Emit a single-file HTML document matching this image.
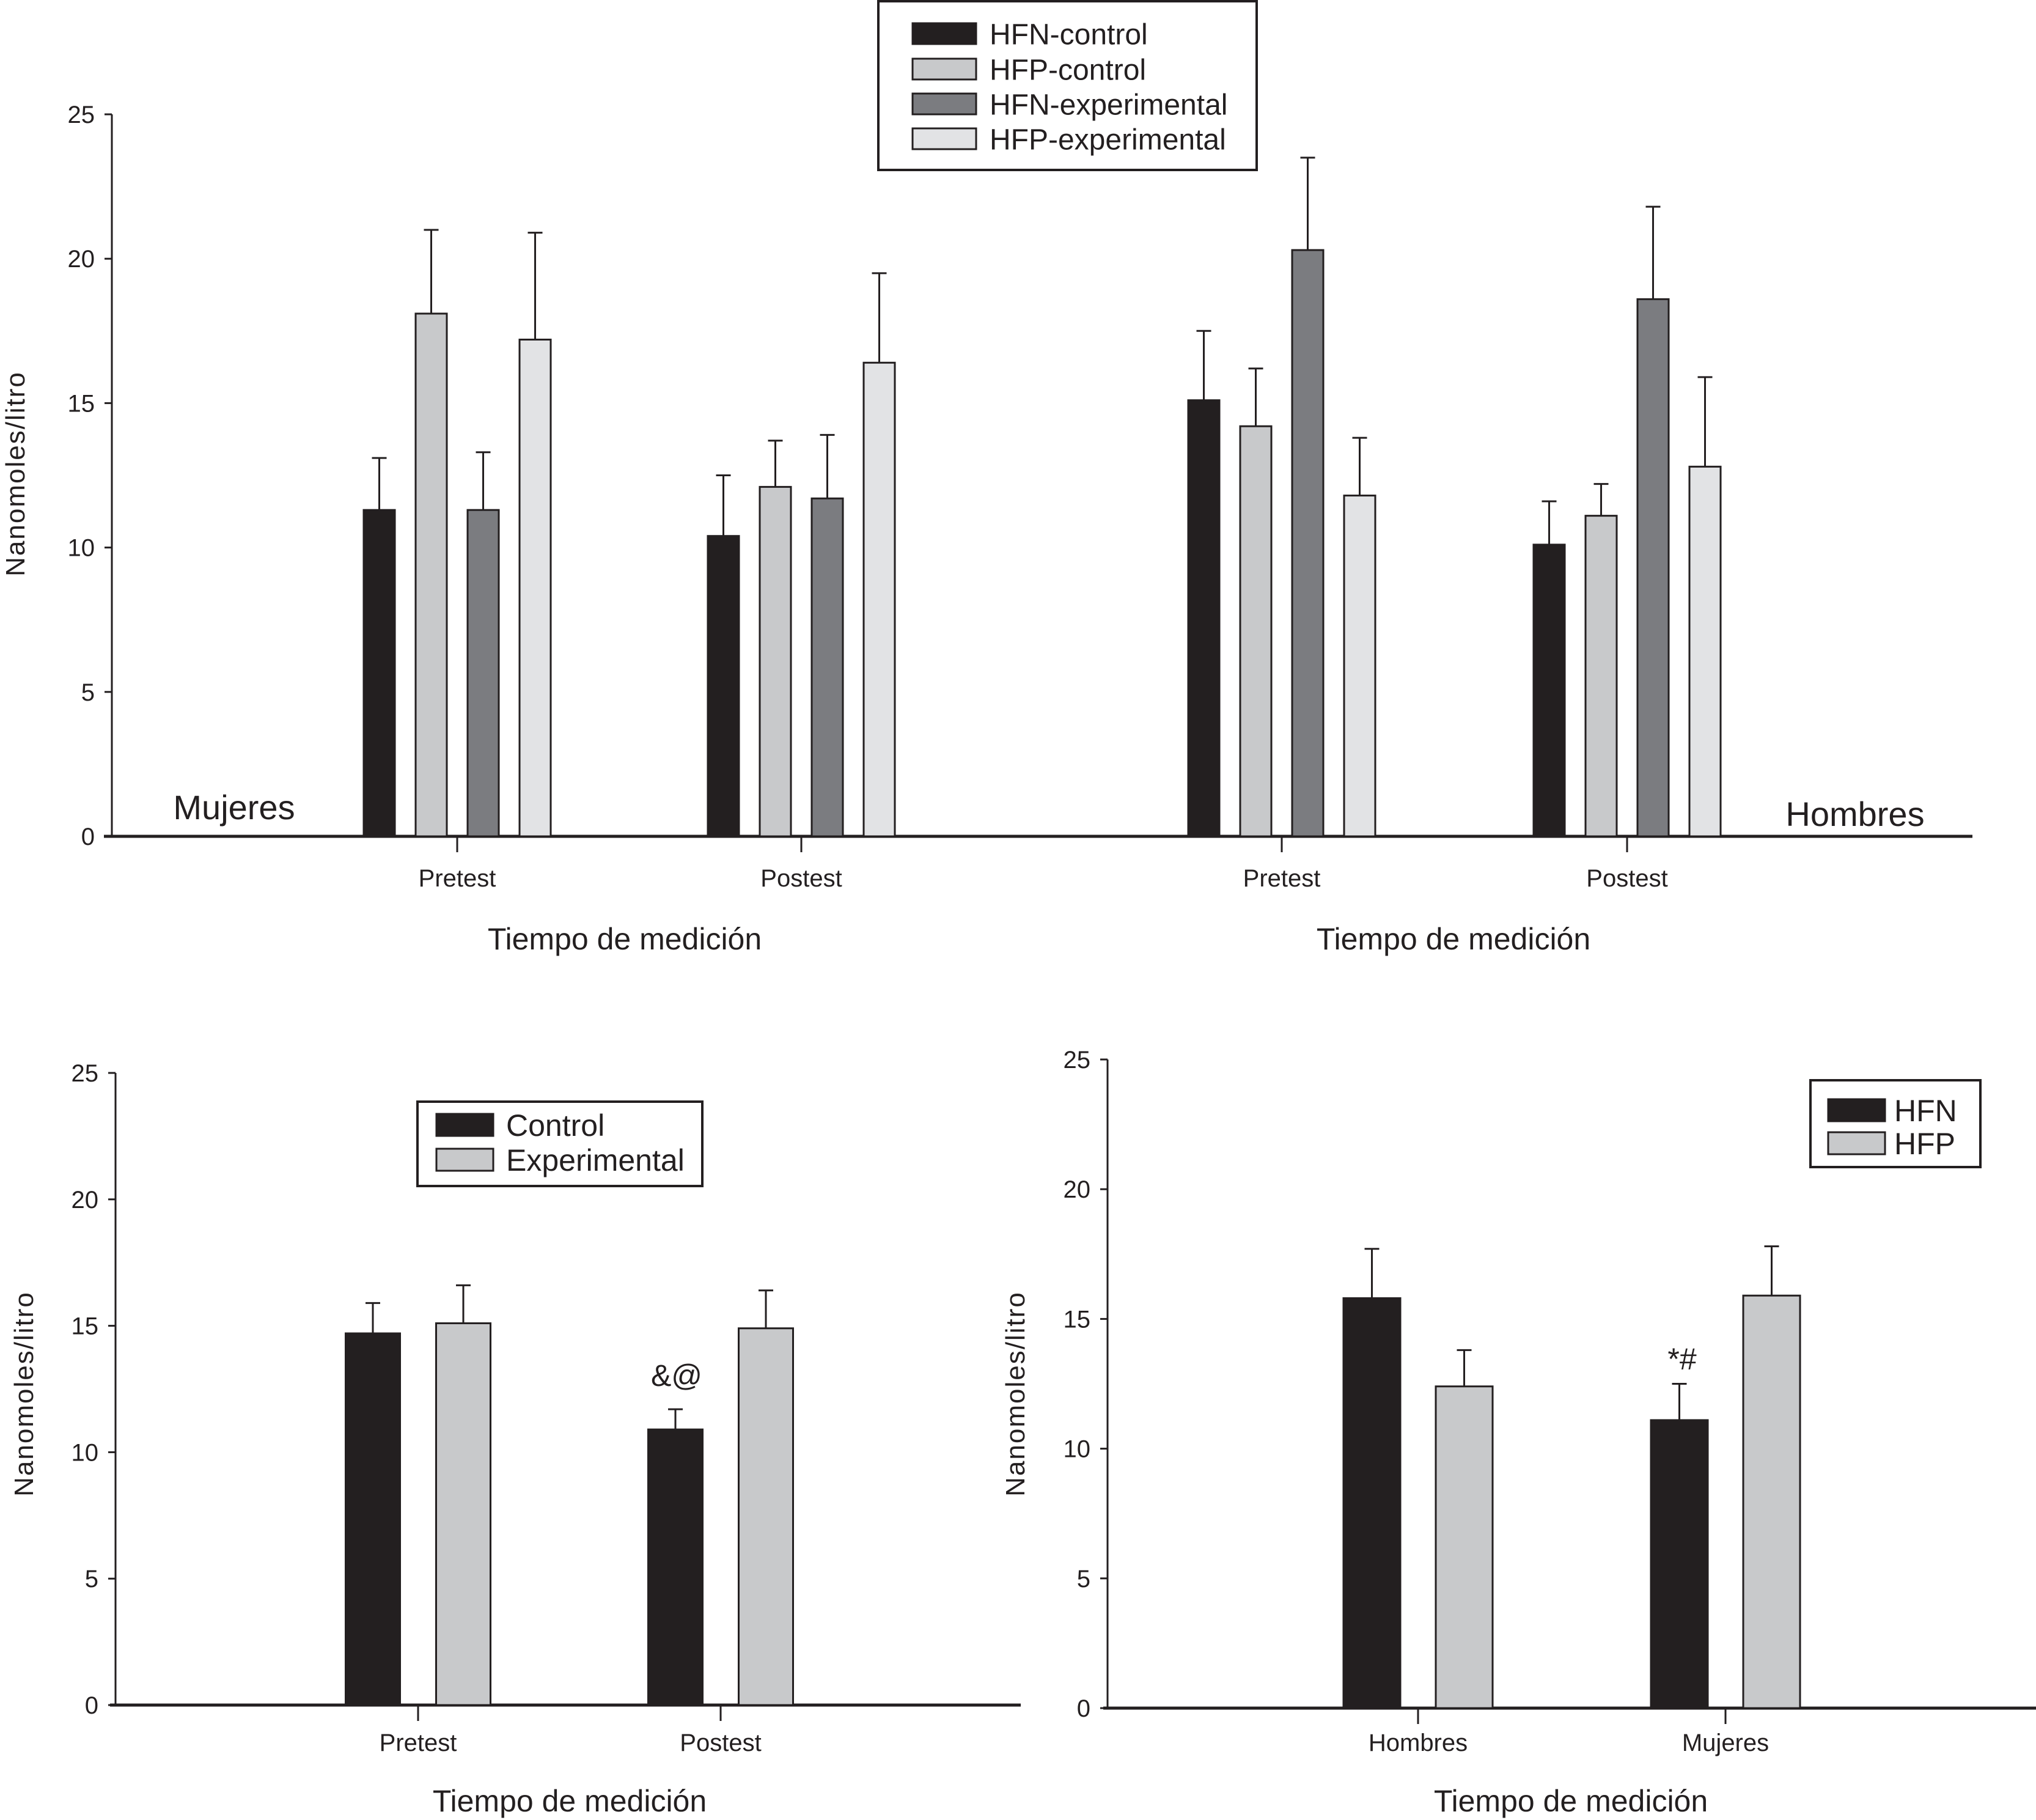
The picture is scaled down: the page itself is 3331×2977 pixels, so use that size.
<!DOCTYPE html>
<html><head><meta charset="utf-8"><style>
html,body{margin:0;padding:0;background:#fff}
svg{display:block}
text{font-family:"Liberation Sans Narrow","Liberation Sans",sans-serif;fill:#231f20}
.yt{font-family:"Liberation Sans",sans-serif;font-size:44px;letter-spacing:2px}
</style></head><body>
<svg id="svg" width="3331" height="2977" viewBox="0 0 3331 2977" xmlns="http://www.w3.org/2000/svg"></svg>
<script>
// Top chart data
const topGroups = ["Pretest","Postest","Pretest","Postest"];
const topSeries = ["HFN-control","HFP-control","HFN-experimental","HFP-experimental"];
const topValues = [[11.3,18.1,11.3,17.2],[10.4,12.1,11.7,16.4],[15.1,14.2,20.3,11.8],[10.1,11.1,18.6,12.8]];
const topErr = [[13.1,21.0,13.3,20.9],[12.5,13.7,13.9,19.5],[17.5,16.2,23.5,13.8],[11.6,12.2,21.8,15.9]];
// Bottom-left data
const blGroups = ["Pretest","Postest"];
const blSeries = ["Control","Experimental"];
const blValues = [[14.7,15.1],[10.9,14.9]];
const blErr = [[15.9,16.6],[11.7,16.4]];
// Bottom-right data
const brGroups = ["Hombres","Mujeres"];
const brSeries = ["HFN","HFP"];
const brValues = [[15.8,12.4],[11.1,15.9]];
const brErr = [[17.7,13.8],[12.5,17.8]];
const yTicks = [0,5,10,15,20,25];

const NS="http://www.w3.org/2000/svg";
const svg=document.getElementById('svg');
function mk(tag,attrs,parent,txt){const e=document.createElementNS(NS,tag);for(const k in attrs)e.setAttribute(k,attrs[k]);if(txt!==undefined)e.textContent=txt;(parent||svg).appendChild(e);return e;}

function chart(cfg){
  const g=mk('g',{});
  
  
  const y=v=>cfg.y0-(cfg.y0-cfg.y25)*v/25;
  // y axis
  const ya=mk('line',{x1:cfg.ax,y1:cfg.y25,x2:cfg.ax,y2:cfg.y0,stroke:'#231f20','stroke-width':3},g);
  
  
  yTicks.forEach(t=>{
    mk('line',{x1:cfg.ax-12,y1:y(t),x2:cfg.ax,y2:y(t),stroke:'#231f20','stroke-width':3},g);
    const tl=mk('text',{x:cfg.ax-28,y:y(t)+14,'font-size':40,'text-anchor':'end'},g,String(t));
    
    
  });
  const xa=mk('line',{x1:cfg.xs,y1:cfg.y0,x2:cfg.xe,y2:cfg.y0,stroke:'#231f20','stroke-width':5},g);
  
  
  cfg.groups.forEach((gn,gi)=>{
    const cx=cfg.gx[gi];
    mk('line',{x1:cx,y1:cfg.y0,x2:cx,y2:cfg.y0+26,stroke:'#231f20','stroke-width':3},g);
    const tl=mk('text',{x:cx,y:cfg.tickY,'font-size':40,'text-anchor':'middle'},g,gn);
    
    
    const n=cfg.values[gi].length;
    cfg.values[gi].forEach((v,si)=>{
      const bx=cx+(si-(n-1)/2)*cfg.step;
      const r=mk('rect',{x:bx-cfg.bw/2,y:y(v),width:cfg.bw,height:cfg.y0-y(v),fill:cfg.colors[si],stroke:'#231f20','stroke-width':3},g);
      
      
      const e=cfg.err[gi][si];
      const el=mk('path',{d:`M${bx},${y(v)}V${y(e)}M${bx-12},${y(e)}H${bx+12}`,stroke:'#231f20','stroke-width':3,fill:'none'},g);
      
      
    });
  });
  return {g,y};
}
const topColors=['#231f20','#c8c9cb','#7b7c80','#e2e3e5'];
chart({name:'top-chart',ax:183,y0:1368,y25:187,xs:170,xe:3227,gx:[748,1311,2097,2662],groups:topGroups,series:topSeries,values:topValues,err:topErr,step:85,bw:51,colors:topColors,tickY:1450});
chart({name:'bottom-left-chart',ax:189,y0:2789,y25:1755,xs:180,xe:1670,gx:[684,1179],groups:blGroups,series:blSeries,values:blValues,err:blErr,step:148,bw:89,colors:['#231f20','#c8c9cb'],tickY:2864});
chart({name:'bottom-right-chart',ax:1812,y0:2794,y25:1733,xs:1805,xe:3331,gx:[2320,2823],groups:brGroups,series:brSeries,values:brValues,err:brErr,step:151,bw:93,colors:['#231f20','#c8c9cb'],tickY:2864});

function label(name,x,y,size,txt,cls,rot){
  const a={x:x,y:y,'font-size':size,'text-anchor':'middle'};
  if(cls)a['class']=cls;
  if(rot)a.transform=`rotate(-90 ${x} ${y})`;
  const t=mk('text',a,svg,txt);
  
  
}
label('x-axis-title-left',1022,1553,50,'Tiempo de medición');
label('x-axis-title-right',2378,1553,50,'Tiempo de medición');
label('x-axis-title-bl',932,2963,50,'Tiempo de medición');
label('x-axis-title-br',2570,2963,50,'Tiempo de medición');
label('y-axis-title-top',40,775,44,'Nanomoles/litro','yt',true);
label('y-axis-title-bl',54,2280,44,'Nanomoles/litro','yt',true);
label('y-axis-title-br',1676,2280,44,'Nanomoles/litro','yt',true);
label('mujeres-label',383,1340,56,'Mujeres');
label('hombres-label',3035,1351,56,'Hombres');
label('annotation-and-at',1107,2267,50,'&@');
label('annotation-star-hash',2752,2240,50,'*#');

function legend(name,x,y,w,h,items,colors,rows,swx,sww,swh,tx,fs){
  const g=mk('g',{});
  
  
  mk('rect',{x:x,y:y,width:w,height:h,fill:'#fff',stroke:'#231f20','stroke-width':4},g);
  items.forEach((it,i)=>{
    const e=mk('g',{},g);
    
    
    mk('rect',{x:swx,y:rows[i]-swh/2,width:sww,height:swh,fill:colors[i],stroke:'#231f20','stroke-width':3},e);
    mk('text',{x:tx,y:rows[i]+fs*0.36,'font-size':fs},e,it);
  });
}
legend('legend-top',1437,2,619,276,topSeries,topColors,[55,113,170,227],1493,104,34,1619,48);
legend('legend-bl',683,1802,466,138,blSeries,['#231f20','#c8c9cb'],[1840,1897],714,93,36,828,50);
legend('legend-br',2962,1767,278,142,brSeries,['#231f20','#c8c9cb'],[1816,1870],2991,93,36,3099,50);
</script>
</body></html>
